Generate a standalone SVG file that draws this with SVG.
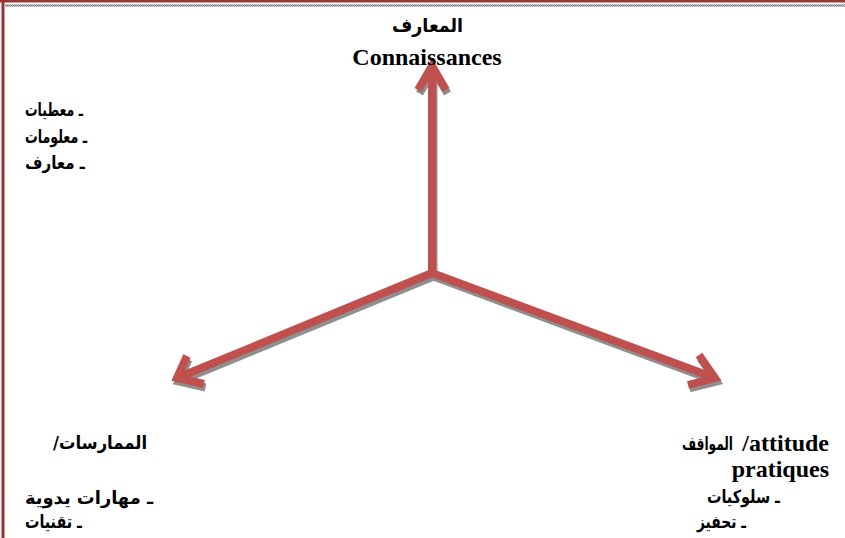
<svg xmlns="http://www.w3.org/2000/svg" width="845" height="538" viewBox="0 0 845 538">
  <style>
    .ar { font-family: "DejaVu Sans", "Noto Sans", sans-serif; font-weight: bold; fill: #000; font-size: 18px; }
    .lat { font-family: "Liberation Serif", "Times New Roman", serif; font-weight: bold; fill: #000; font-size: 24px; }
    .shaft { fill: none; stroke: #C0504D; stroke-width: 8; stroke-linejoin: miter; stroke-linecap: butt; }
    .shade { fill: none; stroke: url(#grain); stroke-width: 8; stroke-linejoin: miter; stroke-linecap: butt; }
  </style>
  <defs>
    <pattern id="grain" width="2" height="2" patternUnits="userSpaceOnUse">
      <rect width="2" height="2" fill="#c0c0c0"/>
      <rect width="1" height="1" fill="#5e5e5e"/>
      <rect x="1" y="1" width="1" height="1" fill="#5e5e5e"/>
    </pattern>
  </defs>

  <rect width="845" height="538" fill="#fff"/>

  <!-- page frame -->
  <g id="frame">
    <line x1="0" y1="1" x2="845" y2="1" stroke="#9B3431" stroke-width="3"/>
    <line x1="3" y1="0" x2="3" y2="538" stroke="#9B3431" stroke-width="3"/>
    <line x1="5" y1="5.5" x2="845" y2="5.5" stroke="url(#grain)" stroke-width="2"/>
  </g>

  <!-- three arrows from a common origin -->
  <g id="connectors">
    <g transform="translate(1.5,3.5)">
      <path class="shade" d="M432,273 L432,66 M418,90 L432,66 L446,90"/>
      <path class="shade" d="M432,273 L177,378 M187,356 L177,378 L204,384"/>
      <path class="shade" d="M432,273 L715,378 M699,355 L715,378 L688,385"/>
    </g>
    <path class="shaft" d="M432,273 L432,66 M418,90 L432,66 L446,90"/>
    <path class="shaft" d="M432,273 L177,378 M187,356 L177,378 L204,384"/>
    <path class="shaft" d="M432,273 L715,378 M699,355 L715,378 L688,385"/>
  </g>

  <!-- top pole: knowledge -->
  <g id="node-knowledge">
    <text class="ar" x="392" y="32" style="font-size:19px" textLength="71" lengthAdjust="spacingAndGlyphs">المعارف</text>
    <text class="lat" x="427" y="65" text-anchor="middle">Connaissances</text>
  </g>

  <g id="list-knowledge">
    <text class="ar" x="25" y="116" textLength="58" lengthAdjust="spacingAndGlyphs">ـ معطيات</text>
    <text class="ar" x="25" y="143" textLength="62" lengthAdjust="spacingAndGlyphs">ـ معلومات</text>
    <text class="ar" x="25" y="169" textLength="60" lengthAdjust="spacingAndGlyphs">ـ معارف</text>
  </g>

  <!-- lower left pole: practices -->
  <g id="node-practices">
    <text class="ar" x="147" y="449" direction="rtl" text-anchor="start" textLength="94" lengthAdjust="spacingAndGlyphs">الممارسات/</text>
    <text class="ar" x="25" y="504" textLength="128" lengthAdjust="spacingAndGlyphs">ـ مهارات يدوية</text>
    <text class="ar" x="25" y="528" textLength="57" lengthAdjust="spacingAndGlyphs">ـ تقنيات</text>
  </g>

  <!-- lower right pole: attitudes -->
  <g id="node-attitudes">
    <text class="lat"><tspan class="ar" x="682" y="450" textLength="51" lengthAdjust="spacingAndGlyphs">المواقف</tspan><tspan x="829" y="451" text-anchor="end">/attitude</tspan><tspan x="829" y="477" text-anchor="end">pratiques</tspan></text>
    <text class="ar" x="707" y="503" textLength="73" lengthAdjust="spacingAndGlyphs">ـ سلوكيات</text>
    <text class="ar" x="697" y="528" textLength="49" lengthAdjust="spacingAndGlyphs">ـ تحفيز</text>
  </g>
</svg>
